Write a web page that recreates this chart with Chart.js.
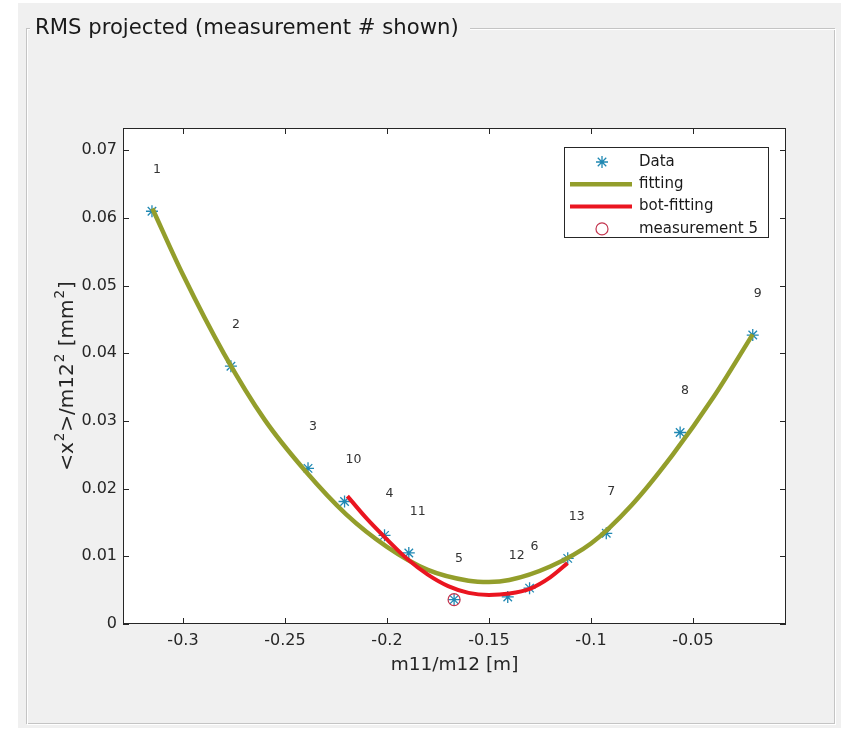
<!DOCTYPE html>
<html>
<head>
<meta charset="utf-8">
<script src="https://cdn.jsdelivr.net/npm/chart.js@4.4.1/dist/chart.umd.min.js"></script>
<style>
html,body{margin:0;padding:0;background:#fff;}
#wrap{width:841px;height:735px;}
</style>
</head>
<body>
<div id="wrap"><canvas id="rmsChart" width="841" height="735"></canvas></div>
<script>
const measNum = [1,2,3,4,5,6,7,8,9,10,11,12,13];
const measX = [-0.3152,-0.2765,-0.2387,-0.2012,-0.1671,-0.1301,-0.0925,-0.0563,-0.0207,-0.2208,-0.1893,-0.1408,-0.1114];
const measY = [0.0610,0.0381,0.0230,0.0131,0.0036,0.0053,0.0134,0.0283,0.0427,0.0181,0.0105,0.0040,0.0097];

// fit through all points
const fitX = [-0.315,-0.30,-0.28,-0.26,-0.24,-0.22,-0.20,-0.18,-0.16,-0.15,-0.14,-0.12,-0.10,-0.08,-0.06,-0.04,-0.0207];
const fitY = [0.0614,0.0516,0.0400,0.0302,0.0226,0.0162,0.0114,0.0080,0.0064,0.0062,0.0065,0.0085,0.0119,0.0176,0.0250,0.0335,0.0428];

// fit on the bottom points only
const botX = [-0.2194,-0.21,-0.20,-0.19,-0.18,-0.17,-0.16,-0.15,-0.14,-0.13,-0.12,-0.1115];
const botY = [0.0189,0.0156,0.0125,0.0096,0.0073,0.0056,0.0046,0.0043,0.0045,0.0052,0.0069,0.0090];

const shownMeas = 5;
const xTicks = [-0.3,-0.25,-0.2,-0.15,-0.1,-0.05];
const yTicks = [0,0.01,0.02,0.03,0.04,0.05,0.06,0.07];

const AX = "#262626";
Chart.defaults.font.family = "'DejaVu Sans', sans-serif";

function pts(xs, ys){ return xs.map((x,i)=>({x:x, y:ys[i]})); }
const shownIdx = measNum.indexOf(shownMeas);

// asterisk for the legend
function star(ctx, x, y, r){
  ctx.beginPath();
  for(let k=0;k<4;k++){
    const a = k*Math.PI/4;
    ctx.moveTo(x-Math.cos(a)*r, y-Math.sin(a)*r);
    ctx.lineTo(x+Math.cos(a)*r, y+Math.sin(a)*r);
  }
  ctx.stroke();
}

// panel background, frame, title, labels, box, legend
const panelPlugin = {
  id: "panel",
  beforeDraw(chart){
    const ctx = chart.ctx, a = chart.chartArea;
    ctx.save();
    ctx.fillStyle = "#ffffff";
    ctx.fillRect(0,0,chart.width,chart.height);
    ctx.fillStyle = "#f0f0f0";
    ctx.fillRect(18,3,chart.width-18,725);
    // etched frame
    ctx.strokeStyle = "#c4c4c4"; ctx.lineWidth = 1;
    ctx.strokeRect(26.5,28.5,808,695);
    ctx.strokeStyle = "#ffffff";
    ctx.strokeRect(27.5,29.5,808,695);
    ctx.fillStyle = "#f0f0f0";
    ctx.fillRect(30,14,440,24);
    ctx.fillStyle = "#1a1a1a";
    ctx.font = "21.2px 'DejaVu Sans'";
    ctx.textBaseline = "middle";
    ctx.fillText("RMS projected (measurement # shown)", 35, 28);
    // axes background
    ctx.fillStyle = "#ffffff";
    ctx.fillRect(a.left,a.top,a.right-a.left,a.bottom-a.top);
    ctx.restore();
  },
  afterDatasetsDraw(chart){
    const ctx = chart.ctx, a = chart.chartArea;
    const xs = chart.scales.x, ys = chart.scales.y;
    ctx.save();
    // measurement numbers
    ctx.fillStyle = "#333";
    ctx.font = "12.5px 'DejaVu Sans'";
    ctx.textAlign = "left"; ctx.textBaseline = "middle";
    measNum.forEach((n,i)=>{
      ctx.fillText(String(n), xs.getPixelForValue(measX[i])+1, ys.getPixelForValue(measY[i]+0.0061));
    });
    // box and inward ticks
    ctx.strokeStyle = AX; ctx.lineWidth = 1;
    ctx.strokeRect(a.left+0.5,a.top+0.5,a.right-a.left-1,a.bottom-a.top-1);
    ctx.beginPath();
    xTicks.forEach(v=>{
      const px = Math.round(xs.getPixelForValue(v))+0.5;
      ctx.moveTo(px,a.bottom); ctx.lineTo(px,a.bottom-6);
      ctx.moveTo(px,a.top); ctx.lineTo(px,a.top+6);
    });
    yTicks.forEach(v=>{
      const py = Math.round(ys.getPixelForValue(v))+0.5;
      ctx.moveTo(a.left,py); ctx.lineTo(a.left+6,py);
      ctx.moveTo(a.right,py); ctx.lineTo(a.right-6,py);
    });
    ctx.stroke();

    // y axis title with superscripts
    const parts = [["<x",0],["2",1],[">/m12",0],["2",1],[" [mm",0],["2",1],["]",0]];
    const fN = "20px 'DejaVu Sans'", fS = "13.5px 'DejaVu Sans'";
    let w = 0;
    parts.forEach(p=>{ ctx.font = p[1]?fS:fN; w += ctx.measureText(p[0]).width + (p[1]?2:0); });
    ctx.translate(68, 376);
    ctx.rotate(-Math.PI/2);
    ctx.fillStyle = AX; ctx.textBaseline = "alphabetic"; ctx.textAlign = "left";
    let cx = -w/2;
    parts.forEach(p=>{
      ctx.font = p[1]?fS:fN;
      if(p[1]) cx += 1;
      ctx.fillText(p[0], cx, p[1]?-4:5);
      cx += ctx.measureText(p[0]).width + (p[1]?1:0);
    });
    ctx.restore();
  },
  afterDraw(chart){
    const ctx = chart.ctx;
    const ds = chart.data.datasets;
    ctx.save();
    ctx.fillStyle = "#fff"; ctx.strokeStyle = AX; ctx.lineWidth = 1;
    ctx.fillRect(564,147,204,90);
    ctx.strokeRect(564.5,147.5,204,90);
    ctx.font = "15px 'DejaVu Sans'";
    ctx.textBaseline = "middle"; ctx.textAlign = "left";
    ds.forEach((d,i)=>{
      const y = 162 + i*22.3;
      ctx.strokeStyle = d.borderColor; ctx.lineWidth = d.borderWidth;
      if(d.showLine){
        ctx.beginPath(); ctx.moveTo(570,y); ctx.lineTo(632,y); ctx.stroke();
      } else if(d.pointStyle === "star"){
        star(ctx,602,y,d.pointRadius);
      } else {
        ctx.beginPath(); ctx.arc(602,y,d.pointRadius,0,Math.PI*2); ctx.stroke();
      }
      ctx.fillStyle = "#1a1a1a";
      ctx.fillText(d.label, 639, y);
    });
    ctx.restore();
  }
};

new Chart(document.getElementById("rmsChart"), {
  type: "scatter",
  data: {
    datasets: [
      {label:"Data", data:pts(measX,measY), pointStyle:"star", pointRadius:6, pointHoverRadius:6,
       borderColor:"#1f88b3", borderWidth:1.3, showLine:false, order:4},
      {label:"fitting", data:pts(fitX,fitY), showLine:true, pointRadius:0, borderColor:"#939e2b",
       borderWidth:4.5, cubicInterpolationMode:"monotone", order:3},
      {label:"bot-fitting", data:pts(botX,botY), showLine:true, pointRadius:0, borderColor:"#ea1520",
       borderWidth:4, cubicInterpolationMode:"monotone", order:2},
      {label:"measurement "+shownMeas, data:[{x:measX[shownIdx], y:measY[shownIdx]}], pointStyle:"circle",
       pointRadius:6, pointHoverRadius:6, borderColor:"#c3344e", backgroundColor:"rgba(0,0,0,0)",
       borderWidth:1.2, showLine:false, order:1}
    ]
  },
  options: {
    responsive:false,
    animation:false,
    events:[],
    layout:{padding:{left:0, top:128, right:55, bottom:0}},
    plugins:{legend:{display:false}, tooltip:{enabled:false}},
    scales:{
      x:{
        type:"linear", min:-0.3294, max:-0.0044,
        grid:{display:false, drawTicks:false}, border:{display:false},
        afterFit(s){ s.height = 111; },
        afterBuildTicks(s){ s.ticks = xTicks.map(v=>({value:v})); },
        ticks:{color:AX, font:{size:16}, padding:7, maxRotation:0, autoSkip:false,
               callback:(v)=>String(v)},
        title:{display:true, text:"m11/m12 [m]", color:AX, font:{size:18.5}, padding:{top:0,bottom:59}}
      },
      y:{
        type:"linear", min:0, max:0.0733,
        grid:{display:false, drawTicks:false}, border:{display:false},
        afterFit(s){ s.width = 123; },
        afterBuildTicks(s){ s.ticks = yTicks.map(v=>({value:v})); },
        ticks:{color:AX, font:{size:16}, padding:6, autoSkip:false,
               callback:(v)=>String(v)}
      }
    }
  },
  plugins:[panelPlugin]
});
</script>
</body>
</html>
